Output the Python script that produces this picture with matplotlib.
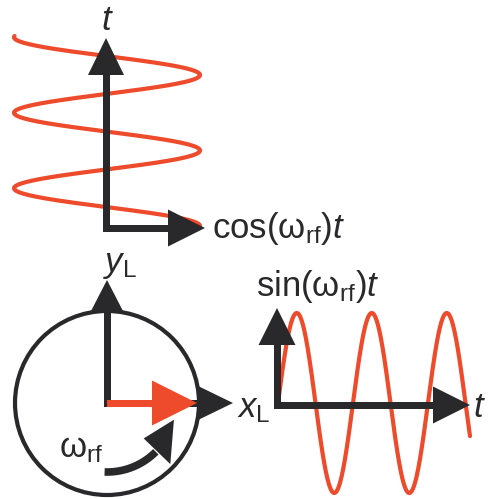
import numpy as np
import matplotlib.pyplot as plt
from matplotlib import font_manager
from matplotlib.patches import Polygon, Circle

# the labels in the picture are set rather tight, use the narrow cut if there
installed = {f.name for f in font_manager.fontManager.ttflist}
if "Liberation Sans Narrow" in installed:
    FONT, FS = "Liberation Sans Narrow", 28
else:
    FONT, FS = "Liberation Sans", 25

plt.rcParams["mathtext.fontset"] = "custom"
plt.rcParams["mathtext.rm"] = FONT
plt.rcParams["mathtext.it"] = FONT + ":italic"
plt.rcParams["mathtext.sf"] = FONT
plt.rcParams["font.family"] = [FONT, "DejaVu Sans"]

RED = "#ee4a2c"
BLACK = "#29292b"

# wave parameters (in picture pixels)
cos_amp = 93
cos_period = 75.5
cos_length = 190
sin_amp = 90
sin_period = 75
sin_length = 192

# labels
lbl_t = r"$t$"
lbl_cos = r"$\mathrm{cos(\omega_{rf})}t$"
lbl_sin = r"$\mathrm{sin(\omega_{rf})}t$"
lbl_y = r"$y_{\mathrm{L}}$"
lbl_x = r"$x_{\mathrm{L}}$"
lbl_w = r"$\mathrm{\omega_{rf}}$"


def arrow(ax, x0, y0, x1, y1, lw=7, hw=36, hl=37, color=BLACK, z=3):
    d = np.array([x1 - x0, y1 - y0], float)
    d /= np.hypot(*d)
    n = np.array([-d[1], d[0]])
    tip = np.array([x1, y1], float)
    base = tip - d * hl
    start = np.array([x0, y0], float)
    shaft_end = base + d * 2
    shaft = [start + n * lw / 2, shaft_end + n * lw / 2,
             shaft_end - n * lw / 2, start - n * lw / 2]
    ax.add_patch(Polygon(shaft, closed=True, fc=color, ec="none", zorder=z))
    head = [tip, base + n * hw / 2, base - n * hw / 2]
    ax.add_patch(Polygon(head, closed=True, fc=color, ec="none", zorder=z))


fig = plt.figure(figsize=(4.88, 4.99), dpi=100)
ax = fig.add_axes([0, 0, 1, 1])
ax.set_xlim(0, 488)
ax.set_ylim(499, 0)
ax.set_aspect("equal")
ax.axis("off")

# --- top: cosine vs t (t upwards) ---
ox, oy = 106, 228
t = np.linspace(0, cos_length, 600)
ax.plot(ox + 1 + cos_amp * np.cos(2 * np.pi * t / cos_period), oy - 2 - t,
        color=RED, lw=3, solid_capstyle="round", zorder=2)
arrow(ax, ox, oy + 3.5, ox, 38, hw=36, hl=37)
arrow(ax, ox - 3.5, oy, 205, oy, hw=37, hl=37)
ax.text(ox + 1, 30, lbl_t, fontsize=FS, ha="center", va="baseline", color=BLACK)
ax.text(212, 238, lbl_cos, fontsize=FS, ha="left", va="baseline", color=BLACK)

# --- bottom left: rotating frame ---
cx, cy, r = 107, 403, 92
ax.add_patch(Circle((cx, cy), r, fc="none", ec=BLACK, lw=3, zorder=2))
arrow(ax, cx, cy + 3.5, cx, 280, hw=33, hl=32)
arrow(ax, cx, cy, 233, cy, hw=35, hl=36)
arrow(ax, cx, cy, 197, cy, hw=45, hl=45, color=RED, z=4)
# curved rotation arrow
ra = 69
th = np.radians(np.linspace(92, 45, 100))
ax.plot(cx + ra * np.cos(th), cy + ra * np.sin(th), color=BLACK, lw=5.5,
        solid_capstyle="butt", zorder=3)
te = np.radians(44)
bc = np.array([cx + ra * np.cos(te), cy + ra * np.sin(te)])
radial = np.array([np.cos(te), np.sin(te)])
tip = np.array([cx + ra * np.cos(np.radians(14)), cy + ra * np.sin(np.radians(14))])
ax.add_patch(Polygon([tip, bc + radial * 19, bc - radial * 18], closed=True,
                     fc=BLACK, ec="none", zorder=3))
ax.text(103, 272, lbl_y, fontsize=FS, ha="left", va="baseline", color=BLACK)
ax.text(237, 417, lbl_x, fontsize=FS, ha="left", va="baseline", color=BLACK)
ax.text(59, 457, lbl_w, fontsize=FS, ha="left", va="baseline", color=BLACK)

# --- bottom right: sine vs t ---
sx, sy = 277, 405
s = np.linspace(0, sin_length, 600)
ax.plot(sx + 1 + s, sy - 2 - sin_amp * np.sin(2 * np.pi * s / sin_period),
        color=RED, lw=3, solid_capstyle="round", zorder=2)
arrow(ax, sx, sy + 3.5, sx, 308, hw=37, hl=37)
arrow(ax, sx - 3.5, sy, 470, sy, hw=37, hl=37)
ax.text(256, 296, lbl_sin, fontsize=FS, ha="left", va="baseline", color=BLACK)
ax.text(473, 417, lbl_t, fontsize=FS, ha="left", va="baseline", color=BLACK)

fig.savefig("out.png", dpi=100)
